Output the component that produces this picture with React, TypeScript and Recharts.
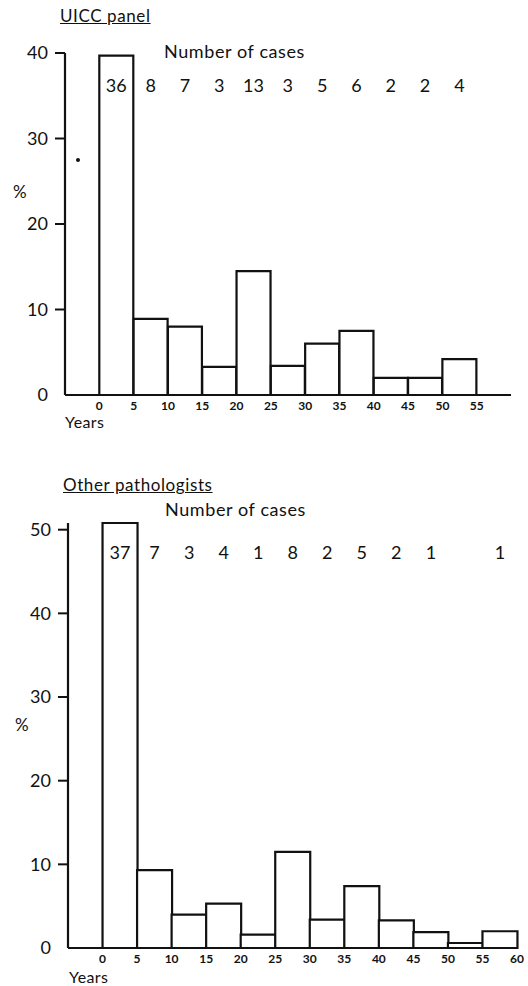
import { BarChart, Bar, XAxis, YAxis, LabelList } from 'recharts';

// survival-time histograms, 5-year bins (first and last bins left empty for spacing)
const BIN_STARTS = [-5, 0, 5, 10, 15, 20, 25, 30, 35, 40, 45, 50, 55];

const UICC_PCT = [null, 39.7, 8.9, 8.0, 3.3, 14.5, 3.4, 6.0, 7.5, 2.0, 2.0, 4.2, null];
const UICC_CASES = [null, 36, 8, 7, 3, 13, 3, 5, 6, 2, 2, 4, null];

const OTHER_PCT = [null, 50.8, 9.3, 4.0, 5.3, 1.6, 11.5, 3.4, 7.4, 3.3, 1.9, 0.6, 2.0];
const OTHER_CASES = [null, 37, 7, 3, 4, 1, 8, 2, 5, 2, 1, null, 1];

const UICC_Y_TICKS = [0, 10, 20, 30, 40];
const OTHER_Y_TICKS = [0, 10, 20, 30, 40, 50];
const UICC_X_TICKS = [0, 5, 10, 15, 20, 25, 30, 35, 40, 45, 50, 55];
const OTHER_X_TICKS = [0, 5, 10, 15, 20, 25, 30, 35, 40, 45, 50, 55, 60];

const INK = '#111';
const FONT = 'Lato, "DejaVu Sans", sans-serif';

function rows(pct: (number | null)[], cases: (number | null)[]) {
  return BIN_STARTS.map((s, i) => ({ bin: String(s), start: s, pct: pct[i], cases: cases[i] }));
}

function YTick(props: any) {
  const { x, y, payload } = props;
  return (
    <g>
      {payload.value !== 0 && (
        <line x1={x + 7} x2={x + 17} y1={y} y2={y} stroke={INK} strokeWidth={2} />
      )}
      <text x={x} y={y} dy="0.36em" textAnchor="end" fontSize={18} fill={INK} fontFamily={FONT}>
        {payload.value}
      </text>
    </g>
  );
}

const countLabel = (cy: number) => (props: any) => {
  const { x, width, value } = props;
  if (value == null) return null;
  return (
    <text
      x={Number(x) + Number(width) / 2}
      y={cy}
      dy="0.36em"
      textAnchor="middle"
      fontSize={18}
      fill={INK}
      fontFamily={FONT}
    >
      {value}
    </text>
  );
};

type PanelProps = {
  top: number;
  height: number;
  marginTop: number;
  marginRight: number;
  yWidth: number;
  xHeight: number;
  yMax: number;
  yTicks: number[];
  xTicks: number[];
  pct: (number | null)[];
  cases: (number | null)[];
  countsY: number;
};

function Panel(p: PanelProps) {
  const data = rows(p.pct, p.cases);
  return (
    <div style={{ position: 'absolute', left: 0, top: p.top }}>
      <BarChart
        width={528}
        height={p.height}
        data={data}
        barCategoryGap={0}
        margin={{ top: p.marginTop, right: p.marginRight, left: 0, bottom: 4 }}
      >
        <XAxis xAxisId="cat" dataKey="bin" type="category" height={0} hide />
        <XAxis
          xAxisId="num"
          dataKey="start"
          type="number"
          domain={[-5, 60]}
          allowDataOverflow
          ticks={p.xTicks}
          interval={0}
          height={p.xHeight}
          axisLine={{ stroke: INK, strokeWidth: 2.2 }}
          tickLine={false}
          tickSize={0}
          tickMargin={6}
          tick={{ fontSize: 12, fontWeight: 700, fill: INK, fontFamily: FONT }}
        />
        <YAxis
          domain={[0, p.yMax]}
          ticks={p.yTicks}
          interval={0}
          width={p.yWidth}
          axisLine={{ stroke: INK, strokeWidth: 2.2 }}
          tickLine={false}
          tickSize={10}
          tickMargin={7}
          tick={<YTick />}
        />
        <Bar
          xAxisId="cat"
          dataKey="pct"
          fill="#fff"
          stroke={INK}
          strokeWidth={2.2}
          isAnimationActive={false}
        >
          <LabelList dataKey="cases" content={countLabel(p.countsY)} />
        </Bar>
      </BarChart>
    </div>
  );
}

const textStyle = { position: 'absolute' as const, fontFamily: FONT, color: INK, lineHeight: 1, whiteSpace: 'nowrap' as const };

export default function App() {
  return (
    <div style={{ position: 'absolute', left: 0, top: 0, width: 528, height: 986, background: '#fff', overflow: 'hidden' }}>
      {/* UICC panel */}
      <div style={{ ...textStyle, left: 60, top: 7, fontSize: 17, letterSpacing: 0.6, textDecoration: 'underline' }}>UICC panel</div>
      <div style={{ ...textStyle, left: 164, top: 42, fontSize: 18, letterSpacing: 0.6 }}>Number of cases</div>
      <Panel
        top={0}
        height={440}
        marginTop={53}
        marginRight={17}
        yWidth={65}
        xHeight={41}
        yMax={40}
        yTicks={UICC_Y_TICKS}
        xTicks={UICC_X_TICKS}
        pct={UICC_PCT}
        cases={UICC_CASES}
        countsY={86}
      />
      <div style={{ ...textStyle, left: 13, top: 183, fontSize: 17 }}>%</div>
      <div style={{ position: 'absolute', left: 76, top: 158, width: 4, height: 4, borderRadius: 2, background: INK }} />
      <div style={{ ...textStyle, left: 65, top: 414, fontSize: 16, letterSpacing: 0.4 }}>Years</div>

      {/* Other pathologists */}
      <div style={{ ...textStyle, left: 63, top: 476, fontSize: 17, letterSpacing: 0.6, textDecoration: 'underline' }}>Other pathologists</div>
      <div style={{ ...textStyle, left: 165, top: 500, fontSize: 18, letterSpacing: 0.6 }}>Number of cases</div>
      <Panel
        top={470}
        height={516}
        marginTop={53}
        marginRight={11}
        yWidth={68}
        xHeight={34}
        yMax={50}
        yTicks={OTHER_Y_TICKS}
        xTicks={OTHER_X_TICKS}
        pct={OTHER_PCT}
        cases={OTHER_CASES}
        countsY={83}
      />
      <div style={{ ...textStyle, left: 15, top: 716, fontSize: 17 }}>%</div>
      <div style={{ ...textStyle, left: 69, top: 969, fontSize: 16, letterSpacing: 0.4 }}>Years</div>
    </div>
  );
}
